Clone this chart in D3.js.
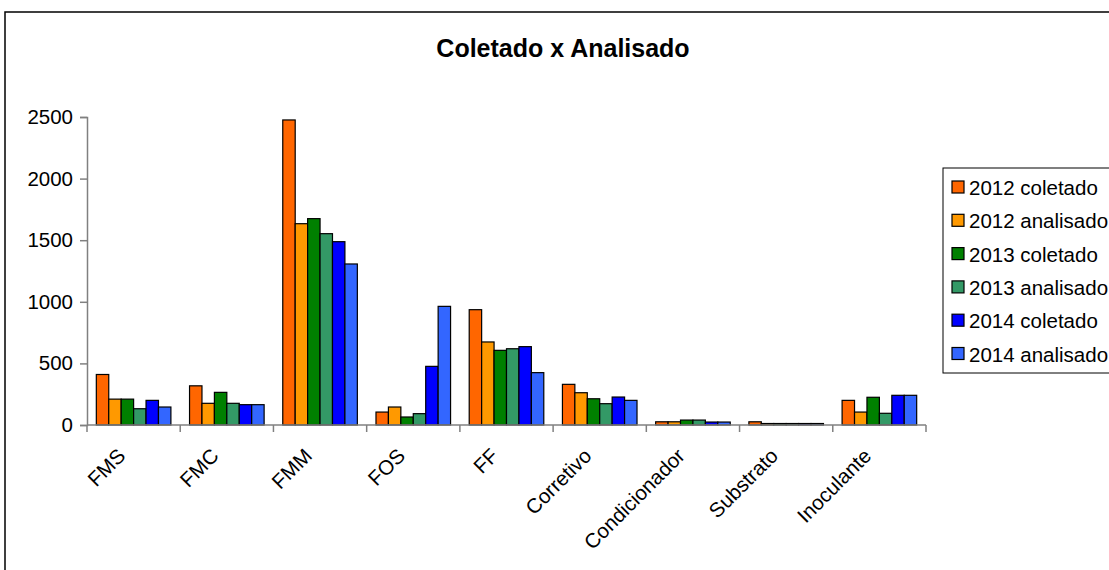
<!DOCTYPE html>
<html>
<head>
<meta charset="utf-8">
<script src="https://cdn.jsdelivr.net/npm/d3@7"></script>
<style>
  body { margin: 0; background: #fff; }
  text { font-family: "Liberation Sans", Arial, sans-serif; }
</style>
</head>
<body>
<div id="chart"></div>
<script>
// categories and series
const categories = ["FMS", "FMC", "FMM", "FOS", "FF", "Corretivo", "Condicionador", "Substrato", "Inoculante"];
const coletado2012  = [410, 318, 2476, 105, 936, 330, 26, 26, 200];
const analisado2012 = [210, 176, 1634, 146, 674, 262, 26, 12, 105];
const coletado2013  = [210, 265, 1675, 65, 606, 213, 40, 12, 225];
const analisado2013 = [132, 176, 1553, 92, 619, 173, 40, 12, 95];
const coletado2014  = [200, 165, 1488, 476, 636, 227, 24, 12, 241];
const analisado2014 = [146, 165, 1307, 963, 425, 200, 24, 12, 241];
const seriesNames = ["2012 coletado", "2012 analisado", "2013 coletado", "2013 analisado", "2014 coletado", "2014 analisado"];
const seriesColors = ["#FF6600", "#FF9900", "#008000", "#339966", "#0000FF", "#3366FF"];
const yTicks = [0, 500, 1000, 1500, 2000, 2500];

const series = [coletado2012, analisado2012, coletado2013, analisado2013, coletado2014, analisado2014];

const width = 1109, height = 570;
const plot = { left: 87, right: 926, top: 117, bottom: 425 };
const fontSize = 20.5;

const svg = d3.select("#chart").append("svg")
    .attr("width", width)
    .attr("height", height);

// outer frame (cut off on right and bottom like the screenshot)
svg.append("rect")
    .attr("x", 5).attr("y", 12)
    .attr("width", 1120).attr("height", 580)
    .attr("fill", "#fff")
    .attr("stroke", "#000")
    .attr("stroke-width", 1.5);

svg.append("text")
    .attr("x", 563).attr("y", 57)
    .attr("text-anchor", "middle")
    .attr("font-size", 25)
    .attr("font-weight", "bold")
    .text("Coletado x Analisado");

const x = d3.scaleBand()
    .domain(categories)
    .range([plot.left, plot.right]);

// 6 bars plus a gap of 1.5 bar widths per category
const barW = x.bandwidth() / 7.5;

const y = d3.scaleLinear()
    .domain([0, 2500])
    .range([plot.bottom, plot.top]);

// bars
const groups = svg.append("g").selectAll("g")
    .data(series)
    .enter().append("g")
    .attr("fill", (d, i) => seriesColors[i]);

groups.selectAll("rect")
    .data((d, i) => d.map((v, j) => ({ v, j, i })))
    .enter().append("rect")
    .attr("x", d => x(categories[d.j]) + barW * 0.75 + d.i * barW)
    .attr("y", d => y(d.v))
    .attr("width", barW)
    .attr("height", d => y(0) - y(d.v))
    .attr("stroke", "#000")
    .attr("stroke-width", 1.2);

// y axis
const yAxis = svg.append("g")
    .attr("transform", `translate(${plot.left},0)`)
    .call(d3.axisLeft(y).tickValues(yTicks).tickSize(7).tickPadding(7).tickFormat(d3.format("d")));
yAxis.select(".domain").attr("stroke", "#808080").attr("stroke-width", 1.5);
yAxis.selectAll(".tick line").attr("stroke", "#808080").attr("stroke-width", 1.5);
yAxis.selectAll(".tick text").attr("font-size", fontSize).attr("fill", "#000")
    .style("font-family", "Liberation Sans, Arial, sans-serif");

// x axis line + boundary ticks
const xAxis = svg.append("g");
xAxis.append("line")
    .attr("x1", plot.left).attr("x2", plot.right)
    .attr("y1", y(0)).attr("y2", y(0))
    .attr("stroke", "#808080").attr("stroke-width", 1.5);
xAxis.selectAll(".xtick")
    .data(d3.range(categories.length + 1))
    .enter().append("line")
    .attr("x1", i => plot.left + i * x.step())
    .attr("x2", i => plot.left + i * x.step())
    .attr("y1", y(0)).attr("y2", y(0) + 7)
    .attr("stroke", "#808080").attr("stroke-width", 1.5);

xAxis.selectAll(".xlabel")
    .data(categories)
    .enter().append("text")
    .attr("text-anchor", "end")
    .attr("font-size", fontSize)
    .attr("transform", d => `translate(${x(d) + x.bandwidth() / 2 - 17},${y(0) + 22}) rotate(-45)`)
    .attr("dy", "0.7em")
    .text(d => d);

// legend
const legend = svg.append("g");
legend.append("rect")
    .attr("x", 943).attr("y", 168)
    .attr("width", 200).attr("height", 205)
    .attr("fill", "#fff")
    .attr("stroke", "#000")
    .attr("stroke-width", 1);

const items = legend.selectAll(".item")
    .data(seriesNames)
    .enter().append("g")
    .attr("transform", (d, i) => `translate(952,${187 + i * 33.3})`);
items.append("rect")
    .attr("x", 0).attr("y", -6)
    .attr("width", 12).attr("height", 12)
    .attr("fill", (d, i) => seriesColors[i])
    .attr("stroke", "#000").attr("stroke-width", 1.2);
items.append("text")
    .attr("x", 17).attr("y", 1)
    .attr("dy", "0.35em")
    .attr("font-size", fontSize)
    .text(d => d);
</script>
</body>
</html>
